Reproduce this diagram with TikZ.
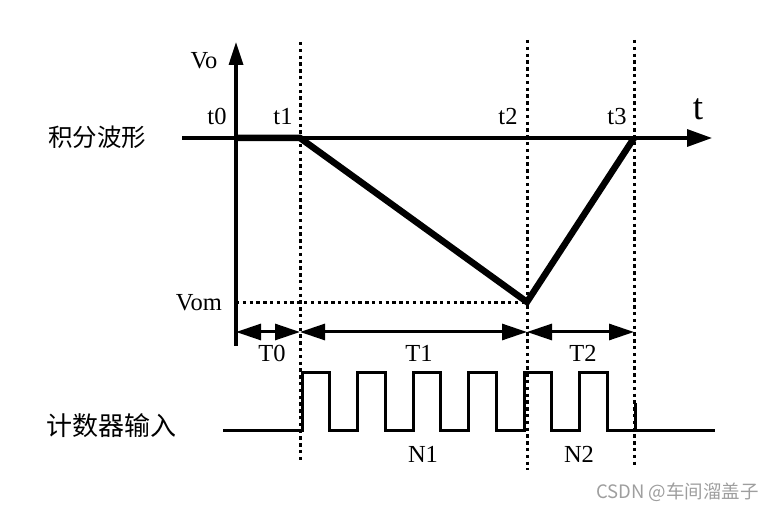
\documentclass[tikz,border=0pt]{standalone}
\usepackage{fontspec}
\setmainfont{Liberation Serif}
\newfontfamily\cjk{Noto Sans CJK SC}
\usetikzlibrary{arrows.meta}

\begin{document}
\begin{tikzpicture}[x=1pt,y=-1pt]
	\useasboundingbox (0,0) rectangle (776,510);
	\tikzstyle{every node}=[font=\fontsize{24.5}{24.5}\selectfont, inner sep=0pt]
	\tikzstyle{axis}=[line width=3.3pt]
	\tikzstyle{guide}=[line width=3pt, dash pattern=on 3.4pt off 3.4pt]
	\tikzstyle{span}=[line width=3pt, {Triangle[length=25pt,width=16pt]}-{Triangle[length=25pt,width=16pt]}]
	\tikzstyle{wave}=[line width=6.5pt]
	\tikzstyle{pulse}=[line width=3pt]
	\tikzstyle{cn}=[font=\cjk\fontsize{24.5}{24.5}\selectfont, anchor=west]
	% time points
	\coordinate (t0) at (236,138);
	\coordinate (t1) at (300,138);
	\coordinate (t2) at (527,138);
	\coordinate (t3) at (634,138);
	\coordinate (vom) at (527,302);
	% dotted guides
	\draw[guide] (300,42) coordinate (g1top) -- (300,460) coordinate (g1bot);
	\draw[guide] (527,40) coordinate (g2top) -- (527,470) coordinate (g2bot);
	\draw[guide] (634,40) coordinate (g3top) -- (634,466) coordinate (g3bot);
	\draw[guide] (236,303) coordinate (vomleft) -- (527,303);
	% axes
	\coordinate (vbot) at (236,346);
	\coordinate (vtop) at (236,42);
	\coordinate (hleft) at (182,138);
	\coordinate (hright) at (712,138);
	\draw[axis, -{Triangle[length=23pt,width=14pt]}] (vbot) -- (vtop);
	\draw[axis, -{Triangle[length=25pt,width=17pt]}] (hleft) -- (hright);
	% integrator output
	\draw[wave] (t0) -- (t1) -- (vom) -- (t3);
	% spans
	\coordinate (s0) at (236,332);
	\coordinate (s1) at (300,332);
	\coordinate (s2) at (527,332);
	\coordinate (s3) at (634,332);
	\draw[span] (s0) -- (s1);
	\draw[span] (s1) -- (s2);
	\draw[span] (s2) -- (s3);
	% counter input
	\draw[pulse] (223,430) coordinate (pstart) -- (302,430)
		\foreach \k in {0,...,5} { -- ++(0,-58) -- ++(27.75,0) -- ++(0,58) -- ++(27.75,0) }
		-- (715,430) coordinate (pend);
	\draw[pulse] (635,430) -- (635,403);
	% labels
	\node[anchor=base] (vo) at (204,69) {Vo};
	\node[anchor=base] (lt0) at (217,125) {t0};
	\node[anchor=base] (lt1) at (283,125) {t1};
	\node[anchor=base] (lt2) at (508,125) {t2};
	\node[anchor=base] (lt3) at (617,125) {t3};
	\node[anchor=base, font=\fontsize{37}{37}\selectfont] (lt) at (698,120) {t};
	\node[anchor=base east] (lvom) at (222,311) {Vom};
	\node[anchor=base] (lT0) at (272,362) {T0};
	\node[anchor=base] (lT1) at (419,362) {T1};
	\node[anchor=base] (lT2) at (583,362) {T2};
	\node[anchor=base] (lN1) at (423,462) {N1};
	\node[anchor=base] (lN2) at (579,462) {N2};
	\node[cn] (wavename) at (48,137) {积分波形};
	\node[cn, font=\cjk\fontsize{26}{26}\selectfont] (cntname) at (46,426) {计数器输入};
	\node[anchor=east, font=\cjk\fontsize{18.5}{18.5}\selectfont, text=black!38] (mark) at (759,492) {CSDN @车间溜盖子};
\end{tikzpicture}
\end{document}
